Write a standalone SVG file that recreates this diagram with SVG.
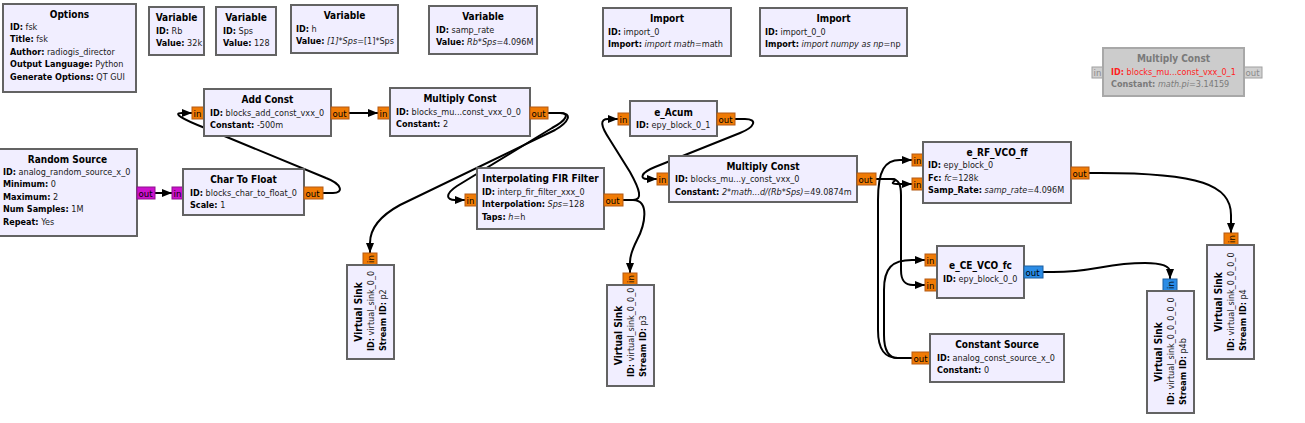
<svg xmlns="http://www.w3.org/2000/svg" width="1305" height="423" viewBox="0 0 1305 423">
<defs>
<marker id="arr" viewBox="0 0 10 8" refX="10" refY="4" markerWidth="10" markerHeight="8" markerUnits="userSpaceOnUse" orient="auto"><path d="M0,0 L10,4 L0,8 z" fill="#000"/></marker>
<style>
text{font-family:"DejaVu Sans Condensed","DejaVu Sans",sans-serif;font-stretch:condensed;font-size:9px;fill:#1a1a1a}
.tt{font-weight:bold;text-anchor:middle;fill:#000;font-size:10px}
.b{font-weight:bold;fill:#000}
.i{font-style:italic}
.bx{fill:#F1EEFF;stroke:#636363;stroke-width:2}
.dbx{fill:#CCCCCC;stroke:#A8A8A8;stroke-width:2}
.pf{fill:#F07B05;stroke:#B45A14;stroke-width:1}
.pm{fill:#CC11CC;stroke:#8E108E;stroke-width:1}
.pc{fill:#2B8CE6;stroke:#1C5FA0;stroke-width:1}
.pd{fill:#D0D0D0;stroke:#A0A0A0;stroke-width:1}
.pt{font-size:9.5px;fill:#000}
.pdt{font-size:9.5px;fill:#8a8a8a}
.dt{fill:#7a7a7a}
.red{fill:#FF1E1E}
.c{fill:none;stroke:#000;stroke-width:2;marker-end:url(#arr)}
</style>
</defs>
<rect width="1305" height="423" fill="#fff"/>
<g id="connectors">
<path class="c" d="M155,193 L172,193"/>
<path class="c" d="M323,193 L333,193 C344,193 342,184 326,178 L205,128 C182,119 172,113 182,113 L192,113"/>
<path class="c" d="M349,113 L378,113"/>
<path class="c" d="M548,113 L560,113 C570,113 567,120 552,128 L457,186 C445,194 446,200 455,200 L465,200"/>
<path class="c" d="M548,113 L560,113 C573,113 569,122 555,130 L400,205 C378,217 370,230 370,243 L370,253"/>
<path class="c" d="M623,200 L633,200 C643,200 640,190 630,172 L610,140 C600,125 600,119 608,119 L618,119"/>
<path class="c" d="M623,200 L633,200 C650,200 645,225 637,240 C632,250 630,255 630,262 L630,273"/>
<path class="c" d="M735,119 L745,119 C758,119 755,127 740,133 L655,167 C640,173 640,179 647,179 L657,179"/>
<path class="c" d="M876,179 L891,179 C903,179 885,184 897,184 L912,184"/>
<path class="c" d="M876,179 L891,179 C899,179 901,185 901,195 L901,270 C901,281 905,285 913,285 L925,285"/>
<path class="c" d="M912,358 L898,358 C885,358 878,350 878,330 L878,200 C878,170 885,160 900,160 L912,160"/>
<path class="c" d="M912,358 L898,358 C888,358 884,350 884,335 L884,290 C884,268 892,260 912,260 L925,260"/>
<path class="c" d="M1089,173 L1100,173 C1200,173 1231,185 1231,215 L1231,233"/>
<path class="c" d="M1043,272 L1053,272 C1095,272 1105,263 1145,263 C1165,263 1170,267 1170,272 L1170,279"/>
</g>
<g id="options">
<rect class="bx" x="3" y="4" width="133" height="88"/>
<text class="tt" x="69.5" y="17.5">Options</text>
<text x="10" y="30"><tspan class="b">ID:</tspan> fsk</text>
<text x="10" y="42.4"><tspan class="b">Title:</tspan> fsk</text>
<text x="10" y="54.8"><tspan class="b">Author:</tspan> radiogis_director</text>
<text x="10" y="67.2"><tspan class="b">Output Language:</tspan> Python</text>
<text x="10" y="79.6"><tspan class="b">Generate Options:</tspan> QT GUI</text>
</g>
<g id="var_rb">
<rect class="bx" x="149" y="7" width="55" height="48"/>
<text class="tt" x="176.5" y="21">Variable</text>
<text x="156" y="33.5"><tspan class="b">ID:</tspan> Rb</text>
<text x="156" y="46"><tspan class="b">Value:</tspan> 32k</text>
</g>
<g id="var_sps">
<rect class="bx" x="216" y="7" width="60" height="48"/>
<text class="tt" x="246" y="21">Variable</text>
<text x="223" y="33.5"><tspan class="b">ID:</tspan> Sps</text>
<text x="223" y="46"><tspan class="b">Value:</tspan> 128</text>
</g>
<g id="var_h">
<rect class="bx" x="291" y="5" width="107" height="48"/>
<text class="tt" x="344.5" y="19">Variable</text>
<text x="296" y="31.5"><tspan class="b">ID:</tspan> h</text>
<text x="296" y="44"><tspan class="b">Value:</tspan> <tspan class="i">[1]*Sps</tspan>=[1]*Sps</text>
</g>
<g id="var_samp_rate">
<rect class="bx" x="429" y="6" width="108" height="48"/>
<text class="tt" x="483" y="20">Variable</text>
<text x="436" y="32.5"><tspan class="b">ID:</tspan> samp_rate</text>
<text x="436" y="45"><tspan class="b">Value:</tspan> <tspan class="i">Rb*Sps</tspan>=4.096M</text>
</g>
<g id="import_0">
<rect class="bx" x="603" y="8" width="128" height="48"/>
<text class="tt" x="667" y="22">Import</text>
<text x="608" y="34.5"><tspan class="b">ID:</tspan> import_0</text>
<text x="608" y="47"><tspan class="b">Import:</tspan> <tspan class="i">import math</tspan>=math</text>
</g>
<g id="import_0_0">
<rect class="bx" x="760" y="8" width="147" height="48"/>
<text class="tt" x="833.5" y="22">Import</text>
<text x="765" y="34.5"><tspan class="b">ID:</tspan> import_0_0</text>
<text x="765" y="47"><tspan class="b">Import:</tspan> <tspan class="i">import numpy as np</tspan>=np</text>
</g>
<g id="mult_const_disabled">
<rect class="pd" x="1092" y="67" width="11" height="11"/>
<text class="pdt" x="1093.5" y="76">in</text>
<rect class="pd" x="1244" y="67" width="18" height="11"/>
<text class="pdt" x="1245.5" y="76">out</text>
<rect class="dbx" x="1103" y="48" width="141" height="48"/>
<text class="tt dt" x="1173.5" y="62">Multiply Const</text>
<text class="red" x="1111" y="74.5"><tspan class="b red">ID:</tspan> blocks_mu...const_vxx_0_1</text>
<text class="dt" x="1111" y="87"><tspan class="b dt">Constant:</tspan> <tspan class="i">math.pi</tspan>=3.14159</text>
</g>
<g id="random_source">
<rect class="bx" x="-2" y="149" width="139" height="87"/>
<rect class="pm" x="137" y="187" width="18" height="12"/>
<text class="pt" x="138.5" y="196.5">out</text>
<text class="tt" x="67.5" y="162.5">Random Source</text>
<text x="3" y="175"><tspan class="b">ID:</tspan> analog_random_source_x_0</text>
<text x="3" y="187.4"><tspan class="b">Minimum:</tspan> 0</text>
<text x="3" y="199.8"><tspan class="b">Maximum:</tspan> 2</text>
<text x="3" y="212.2"><tspan class="b">Num Samples:</tspan> 1M</text>
<text x="3" y="224.6"><tspan class="b">Repeat:</tspan> Yes</text>
</g>
<g id="char_to_float">
<rect class="pm" x="172" y="187" width="11" height="12"/>
<text class="pt" x="173.5" y="196.5">in</text>
<rect class="bx" x="183" y="169" width="121" height="46"/>
<rect class="pf" x="304" y="187" width="19" height="12"/>
<text class="pt" x="305.5" y="196.5">out</text>
<text class="tt" x="243.5" y="183">Char To Float</text>
<text x="190" y="195.5"><tspan class="b">ID:</tspan> blocks_char_to_float_0</text>
<text x="190" y="208"><tspan class="b">Scale:</tspan> 1</text>
</g>
<g id="add_const">
<rect class="pf" x="192" y="107" width="12" height="12"/>
<text class="pt" x="193.5" y="116.5">in</text>
<rect class="bx" x="204" y="89" width="127" height="47"/>
<rect class="pf" x="331" y="107" width="18" height="12"/>
<text class="pt" x="332.5" y="116.5">out</text>
<text class="tt" x="267.5" y="103">Add Const</text>
<text x="210" y="115.5"><tspan class="b">ID:</tspan> blocks_add_const_vxx_0</text>
<text x="210" y="128"><tspan class="b">Constant:</tspan> -500m</text>
</g>
<g id="mult_const_0_0">
<rect class="pf" x="378" y="107" width="12" height="12"/>
<text class="pt" x="379.5" y="116.5">in</text>
<rect class="bx" x="390" y="88" width="140" height="48"/>
<rect class="pf" x="530" y="107" width="18" height="12"/>
<text class="pt" x="531.5" y="116.5">out</text>
<text class="tt" x="460" y="102">Multiply Const</text>
<text x="396" y="114.5"><tspan class="b">ID:</tspan> blocks_mu...const_vxx_0_0</text>
<text x="396" y="127"><tspan class="b">Constant:</tspan> 2</text>
</g>
<g id="interp_fir">
<rect class="pf" x="465" y="194" width="12" height="12"/>
<text class="pt" x="466.5" y="203.5">in</text>
<rect class="bx" x="477" y="168" width="127" height="61"/>
<rect class="pf" x="604" y="194" width="19" height="12"/>
<text class="pt" x="605.5" y="203.5">out</text>
<text class="tt" x="540.5" y="182">Interpolating FIR Filter</text>
<text x="482" y="194.5"><tspan class="b">ID:</tspan> interp_fir_filter_xxx_0</text>
<text x="482" y="207"><tspan class="b">Interpolation:</tspan> <tspan class="i">Sps</tspan>=128</text>
<text x="482" y="219.5"><tspan class="b">Taps:</tspan> <tspan class="i">h</tspan>=h</text>
</g>
<g id="e_acum">
<rect class="pf" x="618" y="113" width="12" height="12"/>
<text class="pt" x="619.5" y="122.5">in</text>
<rect class="bx" x="630" y="101" width="87" height="35"/>
<rect class="pf" x="717" y="113" width="18" height="12"/>
<text class="pt" x="718.5" y="122.5">out</text>
<text class="tt" x="673.5" y="115.5">e_Acum</text>
<text x="636" y="128"><tspan class="b">ID:</tspan> epy_block_0_1</text>
</g>
<g id="mult_const">
<rect class="pf" x="657" y="173" width="12" height="12"/>
<text class="pt" x="658.5" y="182.5">in</text>
<rect class="bx" x="669" y="156" width="188" height="46"/>
<rect class="pf" x="857" y="173" width="19" height="12"/>
<text class="pt" x="858.5" y="182.5">out</text>
<text class="tt" x="763" y="169.5">Multiply Const</text>
<text x="675" y="182"><tspan class="b">ID:</tspan> blocks_mu...y_const_vxx_0</text>
<text x="675" y="194.5"><tspan class="b">Constant:</tspan> <tspan class="i">2*math...d/(Rb*Sps)</tspan>=49.0874m</text>
</g>
<g id="e_rf_vco_ff">
<rect class="pf" x="912" y="154" width="11" height="12"/>
<text class="pt" x="913.5" y="163.5">in</text>
<rect class="pf" x="912" y="178" width="11" height="12"/>
<text class="pt" x="913.5" y="187.5">in</text>
<rect class="bx" x="923" y="142" width="148" height="61"/>
<rect class="pf" x="1071" y="167" width="18" height="12"/>
<text class="pt" x="1072.5" y="176.5">out</text>
<text class="tt" x="997" y="155.5">e_RF_VCO_ff</text>
<text x="928" y="168"><tspan class="b">ID:</tspan> epy_block_0</text>
<text x="928" y="180.5"><tspan class="b">Fc:</tspan> <tspan class="i">fc</tspan>=128k</text>
<text x="928" y="193"><tspan class="b">Samp_Rate:</tspan> <tspan class="i">samp_rate</tspan>=4.096M</text>
</g>
<g id="e_ce_vco_fc">
<rect class="pf" x="925" y="254" width="12" height="12"/>
<text class="pt" x="926.5" y="263.5">in</text>
<rect class="pf" x="925" y="279" width="12" height="12"/>
<text class="pt" x="926.5" y="288.5">in</text>
<rect class="bx" x="937" y="246" width="87" height="52"/>
<rect class="pc" x="1024" y="266" width="19" height="12"/>
<text class="pt" x="1025.5" y="275.5">out</text>
<text class="tt" x="980.5" y="269">e_CE_VCO_fc</text>
<text x="943" y="282"><tspan class="b">ID:</tspan> epy_block_0_0</text>
</g>
<g id="const_source">
<rect class="pf" x="912" y="352" width="18" height="12"/>
<text class="pt" x="913.5" y="361.5">out</text>
<rect class="bx" x="930" y="334" width="134" height="48"/>
<text class="tt" x="997" y="348">Constant Source</text>
<text x="937" y="360.5"><tspan class="b">ID:</tspan> analog_const_source_x_0</text>
<text x="937" y="373"><tspan class="b">Constant:</tspan> 0</text>
</g>
<g id="vsink_p2">
<rect class="pf" x="363" y="253" width="14" height="12"/>
<text class="pt" transform="translate(373.5,259) rotate(-90)" text-anchor="middle">in</text>
<rect class="bx" x="347" y="265" width="47" height="94"/>
<text class="tt" transform="translate(362,312) rotate(-90)">Virtual Sink</text>
<text transform="translate(374,351) rotate(-90)"><tspan class="b">ID:</tspan> virtual_sink_0_0</text>
<text transform="translate(386,351) rotate(-90)"><tspan class="b">Stream ID:</tspan> p2</text>
</g>
<g id="vsink_p3">
<rect class="pf" x="623" y="273" width="14" height="12"/>
<text class="pt" transform="translate(633.5,279) rotate(-90)" text-anchor="middle">in</text>
<rect class="bx" x="607" y="285" width="47" height="101"/>
<text class="tt" transform="translate(622,335.5) rotate(-90)">Virtual Sink</text>
<text transform="translate(634,377) rotate(-90)"><tspan class="b">ID:</tspan> virtual_sink_0_0_0</text>
<text transform="translate(646,377) rotate(-90)"><tspan class="b">Stream ID:</tspan> p3</text>
</g>
<g id="vsink_p4b">
<rect class="pc" x="1163" y="279" width="14" height="12"/>
<text class="pt" transform="translate(1173.5,285) rotate(-90)" text-anchor="middle">in</text>
<rect class="bx" x="1147" y="291" width="47" height="122"/>
<text class="tt" transform="translate(1162,352) rotate(-90)">Virtual Sink</text>
<text transform="translate(1174,405) rotate(-90)"><tspan class="b">ID:</tspan> virtual_sink_0_0_0_0_0</text>
<text transform="translate(1186,405) rotate(-90)"><tspan class="b">Stream ID:</tspan> p4b</text>
</g>
<g id="vsink_p4">
<rect class="pf" x="1224" y="233" width="14" height="12"/>
<text class="pt" transform="translate(1234.5,239) rotate(-90)" text-anchor="middle">in</text>
<rect class="bx" x="1207" y="245" width="47" height="114"/>
<text class="tt" transform="translate(1222,302) rotate(-90)">Virtual Sink</text>
<text transform="translate(1234,351) rotate(-90)"><tspan class="b">ID:</tspan> virtual_sink_0_0_0_0</text>
<text transform="translate(1246,351) rotate(-90)"><tspan class="b">Stream ID:</tspan> p4</text>
</g>
</svg>
